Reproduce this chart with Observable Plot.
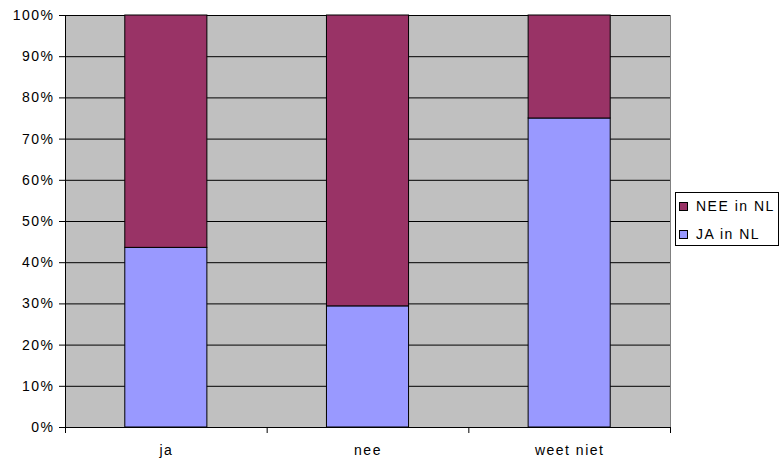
<!DOCTYPE html>
<html><head><meta charset="utf-8">
<script src="https://cdn.jsdelivr.net/npm/d3@7"></script>
<script src="https://cdn.jsdelivr.net/npm/@observablehq/plot@0.6"></script>
<style>
body{margin:0;background:#fff;font-family:Arial,"Liberation Sans",sans-serif;}
#wrap{position:relative;width:782px;height:464px;}
#wrap svg text{font-size:14px !important;letter-spacing:1.5px;font-family:Arial,"Liberation Sans",sans-serif;fill:#000;}
#legend{position:absolute;left:675px;top:192px;width:104px;height:54px;border:1px solid #000;background:#fff;font-size:14px;letter-spacing:1.5px;box-sizing:border-box;}
#legend .it{position:absolute;left:3px;display:flex;align-items:center;line-height:16px;}
#legend .sw{width:7px;height:7px;border:1px solid #000;margin-right:8px;}
</style></head>
<body><div id="wrap"><div id="legend"></div></div>
<script>
const categories = ["ja", "nee", "weet niet"];
const jaInNL = [43.6, 29.4, 75.0];
const neeInNL = [56.4, 70.6, 25.0];
const seriesNames = ["NEE in NL", "JA in NL"];
const seriesColors = ["#993366", "#9999FF"];
const yTicks = [0,10,20,30,40,50,60,70,80,90,100];

const rows = [];
categories.forEach((c,i)=>{
  rows.push({i, series:"JA in NL", y1:0, y2:jaInNL[i]});
  rows.push({i, series:"NEE in NL", y1:jaInNL[i], y2:jaInNL[i]+neeInNL[i]});
});
const bw = 0.407;
const chart = Plot.plot({
  width:782, height:464,
  marginLeft:65, marginRight:112, marginTop:15, marginBottom:37,
  style:{fontFamily:"Arial, 'Liberation Sans', sans-serif", fontSize:"14px", color:"#000", background:"transparent"},
  x:{domain:[0,categories.length], axis:null},
  y:{domain:[0,100], axis:null},
  color:{domain:seriesNames, range:seriesColors},
  marks:[
    Plot.frame({fill:"#C0C0C0", stroke:"#808080"}),
    Plot.ruleY(yTicks, {stroke:"#000", strokeWidth:1}),
    Plot.rectY(rows, {x1:d=>d.i+(1-bw)/2, x2:d=>d.i+(1+bw)/2, y1:"y1", y2:"y2", fill:"series", stroke:"#000", strokeWidth:1}),
    Plot.axisY(yTicks, {tickSize:6, tickPadding:5, tickFormat:d=>d+"%", stroke:"#000"}),
    Plot.ruleX([0], {stroke:"#000"}),
    Plot.ruleY([0], {stroke:"#000"}),
    Plot.axisX(d3.range(categories.length+1), {tickSize:6, tickFormat:()=>"", stroke:"#000"}),
    Plot.axisX(categories.map((c,i)=>i+0.5), {tickSize:0, tickPadding:18, tickFormat:(d)=>categories[Math.floor(d)]})
  ]
});
document.getElementById("wrap").prepend(chart);
const lg = document.getElementById("legend");
seriesNames.forEach((s,k)=>{
  const it=document.createElement("div"); it.className="it"; it.style.top=(5+k*28)+"px";
  const sw=document.createElement("span"); sw.className="sw"; sw.style.background=seriesColors[k];
  const t=document.createElement("span"); t.textContent=s;
  it.append(sw,t); lg.append(it);
});
</script></body></html>
